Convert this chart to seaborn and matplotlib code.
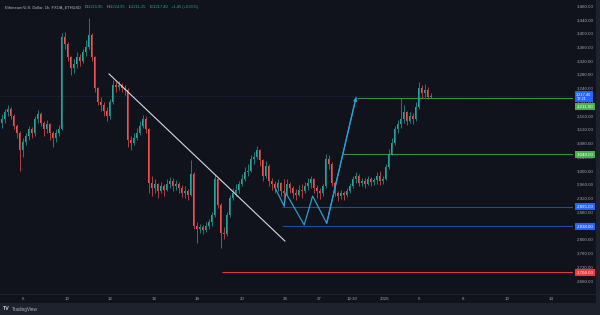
import numpy as np
import pandas as pd
import matplotlib
matplotlib.use("Agg")
import matplotlib.pyplot as plt
import seaborn as sns
from matplotlib.patches import Rectangle
from matplotlib.lines import Line2D

# ---------------- data ----------------
first_open = 3140
closes = [3150, 3170, 3180, 3160, 3130, 3110, 3060, 3085, 3100, 3120,
          3110, 3150, 3165, 3140, 3120, 3135, 3110, 3095, 3110, 3120,
          3390, 3370, 3330, 3300, 3310, 3330, 3320, 3345, 3360, 3395,
          3330, 3240, 3200, 3190, 3175, 3160, 3200, 3250, 3245, 3250,
          3240, 3235, 3090, 3080, 3095, 3110, 3130, 3150, 3120, 2965,
          2950, 2960, 2940, 2955, 2945, 2960, 2970, 2955, 2962, 2950,
          2935, 2940, 2930, 2990, 2840, 2830, 2835, 2828, 2840, 2850,
          2870, 2975, 2900, 2820, 2815, 2870, 2920, 2935, 2945, 2960,
          2975, 2995, 3000, 3035, 3040, 3060, 3030, 2985, 3015, 2970,
          2960, 2950, 2965, 2940, 2935, 2960, 2950, 2935, 2930, 2945,
          2940, 2955, 2965, 2975, 2950, 2940, 2935, 2955, 3035, 3020,
          2965, 2935, 2925, 2935, 2930, 2940, 2955, 2975, 2985, 2965,
          2970, 2962, 2975, 2968, 2972, 2985, 2970, 2975, 3010, 3050,
          3080, 3120, 3135, 3150, 3170, 3145, 3160, 3150, 3185, 3240,
          3225, 3235, 3216, 3217.4]
highs = [3165, 3180, 3190, 3185, 3165, 3135, 3115, 3095, 3110, 3130,
         3128, 3160, 3178, 3170, 3145, 3148, 3140, 3115, 3120, 3132,
         3400, 3405, 3375, 3335, 3325, 3345, 3340, 3355, 3380, 3445,
         3400, 3335, 3245, 3215, 3200, 3185, 3210, 3265, 3260, 3262,
         3255, 3250, 3240, 3100, 3110, 3125, 3145, 3162, 3158, 3125,
         2985, 2975, 2965, 2968, 2962, 2975, 2982, 2978, 2972, 2968,
         2958, 2955, 2948, 3030, 2995, 2850, 2845, 2842, 2850, 2860,
         2880, 2990, 2980, 2905, 2835, 2880, 2930, 2950, 2960, 2970,
         2990, 3010, 3020, 3045, 3055, 3072, 3062, 3035, 3028, 3020,
         2980, 2970, 2975, 2968, 2975, 2975, 2968, 2955, 2948, 2958,
         2960, 2968, 2978, 2985, 2980, 2958, 2950, 2962, 3048, 3045,
         3025, 2970, 2942, 2945, 2942, 2950, 2965, 2985, 2995, 2990,
         2980, 2978, 2985, 2982, 2980, 2995, 2998, 2985, 3020, 3062,
         3095, 3130, 3148, 3212, 3190, 3175, 3172, 3168, 3200, 3258,
         3250, 3252, 3245, 3224.95]
lows = [3125, 3140, 3160, 3150, 3120, 3095, 3000, 3040, 3075, 3090,
        3095, 3100, 3140, 3130, 3100, 3110, 3090, 3070, 3085, 3100,
        3118, 3355, 3320, 3280, 3285, 3300, 3305, 3315, 3335, 3355,
        3320, 3230, 3190, 3175, 3160, 3145, 3150, 3195, 3230, 3235,
        3228, 3220, 3070, 3060, 3075, 3090, 3105, 3125, 3110, 2935,
        2925, 2935, 2920, 2935, 2925, 2940, 2950, 2940, 2945, 2935,
        2922, 2920, 2915, 2925, 2830, 2790, 2818, 2815, 2822, 2830,
        2840, 2865, 2890, 2775, 2800, 2810, 2865, 2915, 2925, 2935,
        2955, 2970, 2985, 2995, 3020, 3035, 3015, 2970, 2980, 2955,
        2945, 2935, 2940, 2925, 2898, 2930, 2935, 2920, 2915, 2925,
        2920, 2935, 2945, 2950, 2935, 2920, 2918, 2925, 2950, 3005,
        2955, 2925, 2912, 2918, 2915, 2922, 2935, 2950, 2965, 2955,
        2955, 2950, 2958, 2955, 2958, 2962, 2958, 2962, 2972, 3005,
        3045, 3075, 3110, 3125, 3140, 3132, 3140, 3135, 3145, 3180,
        3212, 3215, 3210, 3211.25]

x_tick_pos = [7.1, 21.7, 36.2, 50.8, 65.3, 80.1, 94.5, 105.9, 116.9, 127.6,
              139.3, 153.9, 168.6, 183.2]
x_tick_labels = ["6", "10", "12", "16", "18", "20", "24", "27", "12:30", "2026",
                 "6", "8", "10", "14"]
y_ticks = [2680, 2720, 2760, 2800, 2840, 2880, 2920, 2960, 3000, 3040, 3080,
           3120, 3160, 3200, 3240, 3280, 3320, 3360, 3400, 3440, 3480]

level_prices = [3211.0, 3048.0, 2895.0, 2838.0, 2704.0]
level_starts = [118.5, 113.8, 93.5, 93.5, 73.5]
level_kinds = ["green", "green", "blue", "blue", "red"]

trend_x = [35.8, 94.5]
trend_y = [3282, 2795]
zig_x = [91.2, 94.2, 94.8, 100.9, 103.7, 108.4, 118.2]
zig_y = [2950, 2897, 2935, 2842, 2926, 2847, 3214]

last_price = 3217.4
countdown = "17:21"
header_title = "Ethereum/U.S. Dollar, 1h, FXOA_ETHUSD"
header_keys = ["O", "H", "L", "C", ""]
header_vals = ["3,215.95", "3,224.95", "3,211.25", "3,217.40", "+1.45 (+0.05%)"]

# ---------------- style ----------------
BG = "#10131b"
FRAME = "#1e222d"
UP = "#26a69a"
DOWN = "#ef5350"
TXT = "#a3a6af"
CYAN = "#29a3d6"
LINE_COL = {"green": "#3c8f42", "blue": "#2547a8", "red": "#e8333f"}
BADGE_COL = {"green": "#4caf50", "blue": "#2962ff", "red": "#f23645"}

sns.set_theme(style="dark", rc={"axes.facecolor": BG, "figure.facecolor": FRAME})
plt.rcParams["font.family"] = ["Liberation Sans", "DejaVu Sans"]

W, H = 600, 315
fig = plt.figure(figsize=(6, 3.15), dpi=100)
fig.patch.set_facecolor(FRAME)
fig.add_artist(Rectangle((0, 12 / H), 596 / W, 303 / H, transform=fig.transFigure,
                         facecolor=BG, edgecolor="none", zorder=-5))
fig.add_artist(Line2D([0, 596 / W], [21 / H, 21 / H], transform=fig.transFigure,
                      color="#222632", lw=0.6, zorder=-4))

ax = fig.add_axes([0, 21 / H, 573 / W, 294 / H])
ax.set_facecolor(BG)

# candles
n = len(closes)
opens = [first_open] + closes[:-1]
df = pd.DataFrame({"i": np.arange(n), "o": opens, "h": highs, "l": lows, "c": closes})
cols = np.where(df["c"] >= df["o"], UP, DOWN)
ax.vlines(df["i"], df["l"], df["h"], colors=cols, lw=0.5, zorder=3)
body = (df["c"] - df["o"]).abs().clip(lower=1.5)
ax.bar(df["i"], body, bottom=np.minimum(df["o"], df["c"]), width=0.62,
       color=cols, edgecolor="none", zorder=4)

# last price faint line
ax.axhline(last_price, color="#26314d", lw=0.5, ls=(0, (1.5, 1.5)), zorder=1)

# levels
xr = 190.5
for p, s, k in zip(level_prices, level_starts, level_kinds):
    ax.hlines(p, s, xr, color=LINE_COL[k], lw=0.8, zorder=2)

# trend line & zigzag
sns.lineplot(x=trend_x, y=trend_y, ax=ax, color="#d8dae0", lw=0.8, sort=False,
             estimator=None, zorder=5)
sns.lineplot(x=zig_x, y=zig_y, ax=ax, color=CYAN, lw=0.85, sort=False,
             estimator=None, zorder=5)
ax.annotate("", xy=(zig_x[-1], zig_y[-1]), xytext=(zig_x[-2], zig_y[-2]),
            arrowprops=dict(arrowstyle="->", color=CYAN, lw=0.85, shrinkA=0,
                            shrinkB=0, mutation_scale=5), zorder=5)

ax.set_xlim(-0.5, xr)
ax.set_ylim(2641, 3497)
for sp in ax.spines.values():
    sp.set_visible(False)
ax.grid(False)

ax.yaxis.tick_right()
ax.set_yticks(y_ticks)
ax.set_yticklabels([f"{v:,.2f}" for v in y_ticks])
ax.tick_params(axis="y", length=0, pad=2.6, labelsize=3.2, labelcolor=TXT)
ax.set_xticks(x_tick_pos)
ax.set_xticklabels(x_tick_labels)
ax.tick_params(axis="x", length=0, pad=1.8, labelsize=3.2, labelcolor=TXT)

# badges
def badge(price, text, color, dy=0, size=3.2, ls=1.0):
    ax.annotate(text, xy=(1, price), xycoords=("axes fraction", "data"),
                xytext=(2.4, dy), textcoords="offset points", ha="left", va="center",
                color="white", fontsize=size, linespacing=ls, annotation_clip=False,
                bbox=dict(boxstyle="square,pad=0.35", fc=color, ec="none"), zorder=8)

badge(last_price, f"{last_price:,.2f}\n{countdown}", BADGE_COL["blue"], dy=-0.5,
      size=2.8, ls=0.95)
for p, k in zip(level_prices, level_kinds):
    dy = -6.2 if p == 3211.0 else 0
    badge(p, f"{p:,.2f}", BADGE_COL[k], dy=dy)

# header (placed sequentially using measured widths)
fig.canvas.draw()
renderer = fig.canvas.get_renderer()
hy = 1 - 7 / H
fs = 2.9
t = fig.text(5 / W, hy, header_title, fontsize=fs, color="#b8bbc4", va="center", ha="left")
xpos = t.get_window_extent(renderer).x1 + 4
for key, val in zip(header_keys, header_vals):
    if key:
        tk = fig.text(xpos / W, hy, key, fontsize=fs, color="#b8bbc4", va="center", ha="left")
        xpos = tk.get_window_extent(renderer).x1 + 0.3
    tv = fig.text(xpos / W, hy, val, fontsize=fs, color=UP, va="center", ha="left")
    xpos = tv.get_window_extent(renderer).x1 + 3

# TradingView logo
fig.text(3 / W, 6 / H, "TV", fontsize=3.8, fontweight="bold", color="#d1d4dc",
         va="center", ha="left")
fig.text(12 / W, 6 / H, "TradingView", fontsize=3.3, color="#b2b5be",
         va="center", ha="left")

fig.savefig("out.png", dpi=100, facecolor=FRAME)
